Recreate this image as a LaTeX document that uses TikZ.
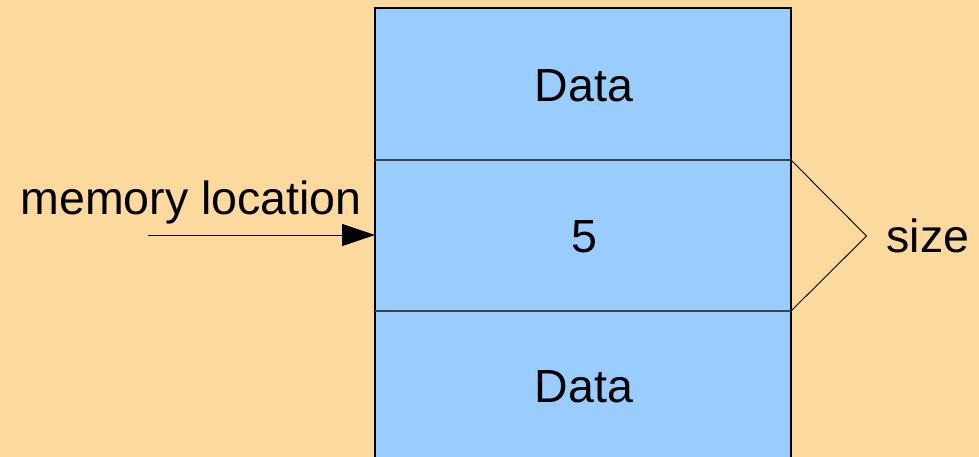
\documentclass[tikz,border=0pt]{standalone}
\usepackage{fontspec}
\setmainfont{Liberation Sans}
\usetikzlibrary{arrows.meta}
\definecolor{bgc}{HTML}{FCD99C}
\definecolor{boxc}{HTML}{99CCFF}
\definecolor{divc}{HTML}{3A4450}
\tikzset{
  lbl/.style={font=\fontsize{46.5}{50}\selectfont, anchor=base, inner sep=0pt},
}
\begin{document}
\begin{tikzpicture}[x=1pt,y=-1pt]
\fill[bgc] (0,0) rectangle (979,457);
\useasboundingbox (0,0) rectangle (979,457);
\fill[boxc] (375,8) rectangle (791,457);
\coordinate (tl) at (375,8);
\coordinate (tr) at (791,8);
\coordinate (bl) at (375,457);
\coordinate (br) at (791,457);
\coordinate (d1l) at (375,160);
\coordinate (d1r) at (791,160);
\coordinate (d2l) at (375,311);
\coordinate (d2r) at (791,311);
\draw[line width=1.3pt] (bl) -- (tl) -- (tr) -- (br);
\draw[divc, line width=1.3pt] (d1l) -- (d1r);
\draw[divc, line width=1.3pt] (d2l) -- (d2r);
\node[lbl] (data1) at (584,102) {Data};
\node[lbl] (five) at (584,252) {5};
\node[lbl] (data2) at (584,402) {Data};
\node[lbl] (mem) at (191,214) {memory location};
\node[lbl] (size) at (928,252) {size};
\coordinate (tip) at (866.5,236);
\draw[line width=0.9pt] (d1r) -- (tip) -- (d2r);
\coordinate (astart) at (148,235);
\coordinate (aend) at (375,235);
\draw[line width=0.9pt, -{Triangle[length=33pt,width=22pt]}] (astart) -- (aend);
\end{tikzpicture}
\end{document}
